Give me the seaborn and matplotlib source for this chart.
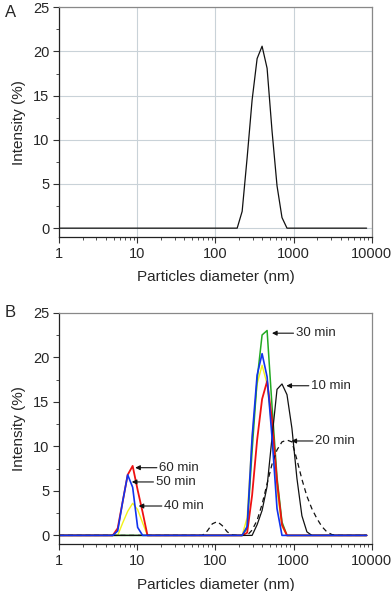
import numpy as np
import pandas as pd
import seaborn as sns
import matplotlib
matplotlib.use('Agg')
import matplotlib.pyplot as plt
from matplotlib.ticker import LogLocator, FixedLocator, FixedFormatter, MultipleLocator

# Panel A: single size distribution
a_size = [1, 190, 220, 255, 295, 342, 396, 459, 531, 615, 712, 825, 8630]
a_int = [0, 0, 1.9, 8.0, 14.5, 19.2, 20.6, 18.1, 11.0, 4.8, 1.2, 0, 0]

# Panel B: distributions over time
b10_size = [1, 295, 342, 396, 459, 531, 615, 712, 825, 955, 1106, 1281, 1484, 1718, 8630]
b10_int = [0, 0, 1.2, 2.8, 5.5, 11.0, 16.4, 17.0, 15.8, 12.0, 6.4, 2.2, 0.4, 0, 0]

b20_size = [1, 68, 78.8, 91.3, 105.7, 122.4, 141.8, 164, 190, 255, 295, 342, 396, 459, 531,
            615, 712, 825, 955, 1106, 1281, 1484, 1718, 1990, 2305, 2669, 3091, 3580, 8630]
b20_int = [0, 0, 0.5, 1.3, 1.55, 1.1, 0.4, 0.05, 0, 0, 0.6, 1.7, 3.5, 5.8, 8.0,
           9.6, 10.5, 10.7, 10.5, 8.5, 6.3, 4.4, 3.0, 1.9, 1.0, 0.4, 0.1, 0, 0]

b30_size = [1, 220, 255, 295, 342, 396, 459, 531, 615, 712, 825, 8630]
b30_int = [0, 0, 0.8, 9.5, 17.5, 22.5, 23.0, 14.5, 6.5, 1.5, 0, 0]

b40_size = [1, 5.61, 6.5, 7.53, 8.72, 10.1, 11.7, 13.5, 220, 255, 295, 342, 396, 459, 531, 615, 712, 825, 8630]
b40_int = [0, 0, 1.4, 2.7, 3.6, 2.9, 1.4, 0, 0, 2.0, 11.0, 17.0, 19.1, 17.0, 12.0, 5.0, 1.0, 0, 0]

b50_size = [1, 4.85, 5.61, 6.5, 7.53, 8.72, 10.1, 11.7, 220, 255, 295, 342, 396, 459, 531, 615, 712, 8630]
b50_int = [0, 0, 0.5, 3.8, 6.8, 5.4, 0.9, 0, 0, 1.0, 11.0, 18.0, 20.4, 17.8, 11.0, 3.0, 0, 0]

b60_size = [1, 4.85, 5.61, 6.5, 7.53, 8.72, 10.1, 11.7, 13.5, 220, 255, 295, 342, 396, 459, 531, 615, 712, 825, 8630]
b60_int = [0, 0, 0.8, 3.8, 6.8, 7.8, 5.1, 2.6, 0, 0, 0.3, 4.5, 10.7, 15.3, 17.3, 13.0, 6.0, 1.2, 0, 0]

# labels: (text, arrow tail x, arrow head x, y)
labels = [('30 min', 1000, 530, 22.7),
          ('10 min', 1570, 810, 16.8),
          ('20 min', 1770, 940, 10.6),
          ('60 min', 17.8, 9.4, 7.6),
          ('50 min', 16.1, 8.5, 6.0),
          ('40 min', 20.6, 10.4, 3.3)]

sns.set_style('ticks')
plt.rcParams['font.family'] = ['Liberation Sans', 'DejaVu Sans']
plt.rcParams['font.size'] = 10.5

fig = plt.figure(figsize=(3.92, 5.91), dpi=100)
axA = fig.add_axes([0.151, 0.599, 0.797, 0.3886])
axB = fig.add_axes([0.151, 0.079, 0.797, 0.3919])


def style_axis(ax, grid=False):
    ax.set_xscale('log')
    ax.set_xlim(1, 10000)
    ax.set_ylim(-1, 25)
    ax.xaxis.set_major_locator(FixedLocator([1, 10, 100, 1000, 10000]))
    ax.xaxis.set_major_formatter(FixedFormatter(['1', '10', '100', '1000', '10000']))
    ax.xaxis.set_minor_locator(LogLocator(base=10, subs=np.arange(2, 10), numticks=20))
    ax.xaxis.set_minor_formatter(FixedFormatter([]))
    ax.yaxis.set_major_locator(MultipleLocator(5))
    ax.yaxis.set_minor_locator(MultipleLocator(2.5))
    ax.tick_params(which='major', direction='out', length=4, width=0.8, labelsize=10.5, pad=3, color='#333333')
    ax.tick_params(which='minor', direction='out', length=2.3, width=0.6, color='#333333')
    for s in ['left', 'bottom']:
        ax.spines[s].set_color('#222222')
        ax.spines[s].set_linewidth(0.9)
    for s in ['top', 'right']:
        ax.spines[s].set_color('#888888')
        ax.spines[s].set_linewidth(0.9)
    if grid:
        ax.grid(True, which='major', color='#c9d2d8', linewidth=0.8)
        ax.set_axisbelow(True)
    ax.set_xlabel('Particles diameter (nm)', fontsize=11, labelpad=7)
    ax.set_ylabel('Intensity (%)', fontsize=11, labelpad=5)


style_axis(axA, grid=True)
sns.lineplot(x=a_size, y=a_int, ax=axA, color='#111111', linewidth=0.9, estimator=None, sort=False)

style_axis(axB)
sns.lineplot(x=b40_size, y=b40_int, ax=axB, color='#f2f21a', linewidth=1.0, estimator=None, sort=False)
sns.lineplot(x=b30_size, y=b30_int, ax=axB, color='#22aa22', linewidth=1.1, estimator=None, sort=False)
sns.lineplot(x=b60_size, y=b60_int, ax=axB, color='#ee1111', linewidth=1.3, estimator=None, sort=False)
sns.lineplot(x=b20_size, y=b20_int, ax=axB, color='#111111', linewidth=0.9, linestyle=(0, (4, 3)),
             estimator=None, sort=False)
sns.lineplot(x=b10_size, y=b10_int, ax=axB, color='#111111', linewidth=0.9, estimator=None, sort=False)
sns.lineplot(x=b50_size, y=b50_int, ax=axB, color='#1133ee', linewidth=1.2, estimator=None, sort=False)

for txt, xt, xh, yv in labels:
    axB.annotate('', xy=(xh, yv), xytext=(xt, yv),
                 arrowprops=dict(arrowstyle='-|>', color='#111111', lw=0.8,
                                 mutation_scale=7, shrinkA=0, shrinkB=0))
    axB.text(xt * 1.08, yv, txt, fontsize=9.5, va='center', ha='left')

fig.text(0.012, 0.979, 'A', fontsize=12, va='center', ha='left')
fig.text(0.012, 0.471, 'B', fontsize=12, va='center', ha='left')

fig.savefig('out.png', dpi=100)
